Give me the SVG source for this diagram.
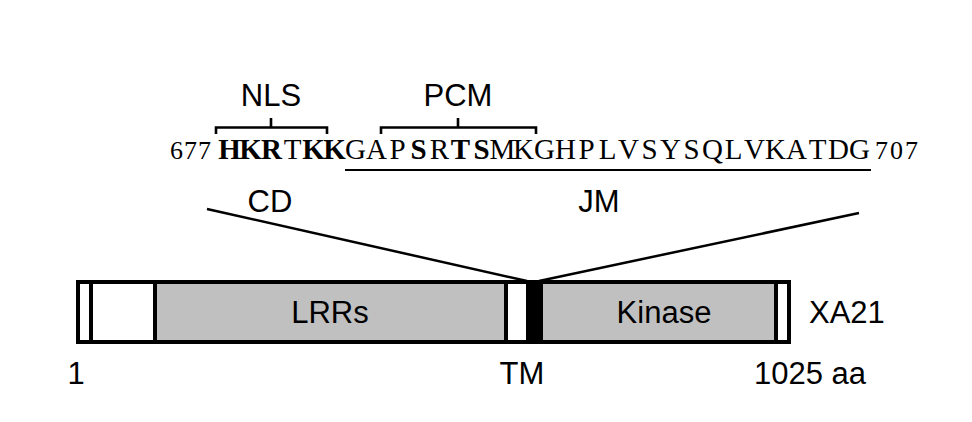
<svg xmlns="http://www.w3.org/2000/svg" width="972" height="422" viewBox="0 0 972 422">
<style>
.lbl{font-family:"Liberation Sans",Arial,sans-serif;font-size:31px;fill:#000}
.seq{font-family:"Liberation Serif","Times New Roman",serif;font-size:29px;fill:#000}
.num{font-size:26px}
.b{font-weight:bold}
.ln{stroke:#000;stroke-width:2.5;fill:none}
.br{stroke:#000;stroke-width:2.6;fill:none}
.dom{stroke:#000;stroke-width:4}
</style>
<rect width="972" height="422" fill="#fff"/>
<g id="connectors">
<line class="ln" x1="207" y1="209" x2="527" y2="281"/>
<line class="ln" x1="859" y1="213" x2="539" y2="281"/>
</g>
<g id="brackets">
<path class="br" d="M216,134 V127.5 H327 V134 M271,127.5 V118"/>
<path class="br" d="M381,134 V127.5 H536 V134 M458,127.5 V118"/>
</g>
<g id="labels">
<text class="lbl" x="271" y="106" text-anchor="middle">NLS</text>
<text class="lbl" x="458" y="106" text-anchor="middle">PCM</text>
<text class="lbl" x="270" y="212" text-anchor="middle">CD</text>
<text class="lbl" x="599" y="212" text-anchor="middle">JM</text>
</g>
<g id="sequence">
<text class="seq" y="159" text-anchor="middle"><tspan class="num" x="176.5 190.5 204.5">677</tspan><tspan class="b" x="229.5 250.5 271.5">HKR</tspan><tspan x="292.5">T</tspan><tspan class="b" x="313.5 334.5">KK</tspan><tspan x="355.5 376.5 397.5">GAP</tspan><tspan class="b" x="418.5">S</tspan><tspan x="439.5">R</tspan><tspan class="b" x="460.5 481.5">TS</tspan><tspan x="502.5 523.5 544.5 565.5 586.5 607.5 628.5 649.5 670.5 691.5 712.5 733.5 754.5 775.5 796.5 817.5 838.5 859.5">MKGHPLVSYSQLVKATDG</tspan><tspan class="num" x="881.5 896.5 911.5">707</tspan></text>
<line x1="345" y1="170" x2="871" y2="170" stroke="#000" stroke-width="2"/>
</g>
<g id="xa21">
<rect class="dom" x="78" y="282" width="711" height="60" fill="#fff"/>
<line class="dom" x1="91" y1="282" x2="91" y2="342"/>
<rect class="dom" x="155" y="282" width="351" height="60" fill="#c0c0c0"/>
<rect x="526" y="282" width="15" height="60" fill="#000"/>
<rect class="dom" x="541" y="282" width="235" height="60" fill="#c0c0c0"/>
<text class="lbl" x="330" y="323" text-anchor="middle">LRRs</text>
<text class="lbl" x="664" y="323" text-anchor="middle">Kinase</text>
<text class="lbl" x="809" y="323">XA21</text>
<text class="lbl" x="76" y="384" text-anchor="middle">1</text>
<text class="lbl" x="522" y="384" text-anchor="middle">TM</text>
<text class="lbl" x="754" y="384">1025 aa</text>
</g>
</svg>
